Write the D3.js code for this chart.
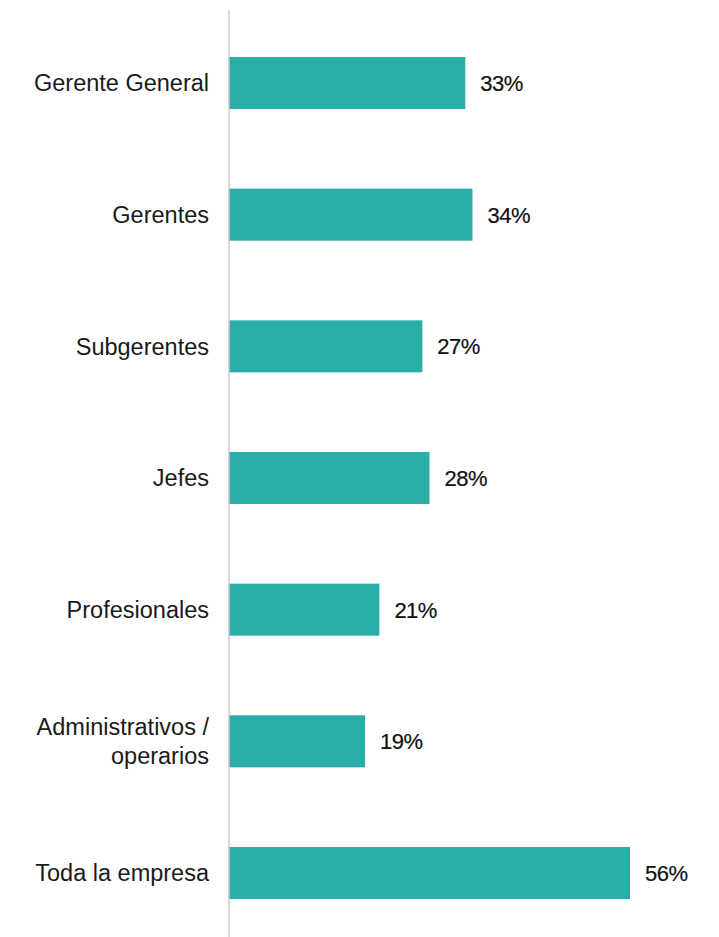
<!DOCTYPE html>
<html>
<head>
<meta charset="utf-8">
<script src="https://cdn.jsdelivr.net/npm/d3@7"></script>
<style>
  html, body { margin: 0; padding: 0; background: #ffffff; }
  svg { display: block; }
</style>
</head>
<body>
<svg id="chart" width="719" height="937"></svg>
<script>
// Share of respondents by role level
const categories = [
  "Gerente General",
  "Gerentes",
  "Subgerentes",
  "Jefes",
  "Profesionales",
  "Administrativos / operarios",
  "Toda la empresa"
];
const values = [33, 34, 27, 28, 21, 19, 56];
// label lines for categories that wrap
const categoryLines = [
  ["Gerente General"],
  ["Gerentes"],
  ["Subgerentes"],
  ["Jefes"],
  ["Profesionales"],
  ["Administrativos /", "operarios"],
  ["Toda la empresa"]
];

const width = 719, height = 937;
const axisX = 229;
const fontFamily = "'Liberation Sans', Arial, sans-serif";

const svg = d3.select("#chart");

const x = d3.scaleLinear().domain([0, 56]).range([axisX, 630]);
const y = d3.scaleBand()
  .domain(categories)
  .range([57, 899])
  .paddingInner(0.605)
  .paddingOuter(0);

const rows = categories.map((c, i) => ({ c, v: values[i], lines: categoryLines[i] }));

// bars
svg.append("g")
  .selectAll("rect")
  .data(rows)
  .join("rect")
  .attr("x", x(0))
  .attr("y", d => y(d.c))
  .attr("width", d => x(d.v) - x(0))
  .attr("height", y.bandwidth())
  .attr("fill", "#28ada9");

// vertical baseline
svg.append("line")
  .attr("x1", axisX).attr("x2", axisX)
  .attr("y1", 10).attr("y2", height)
  .attr("stroke", "#c9c9d1")
  .attr("stroke-width", 1.5);

// category labels
const lineH = 29;
svg.append("g")
  .selectAll("text")
  .data(rows)
  .join("text")
  .attr("text-anchor", "end")
  .attr("font-family", fontFamily)
  .attr("font-size", 23.5)
  .attr("fill", "#1a1a1a")
  .each(function (d) {
    const cy = y(d.c) + y.bandwidth() / 2;
    const n = d.lines.length;
    const first = cy - (n - 1) * lineH / 2;
    d3.select(this).selectAll("tspan")
      .data(d.lines)
      .join("tspan")
      .attr("x", axisX - 20)
      .attr("y", (t, j) => first + j * lineH)
      .attr("dy", "0.36em")
      .text(t => t);
  });

// value labels
svg.append("g")
  .selectAll("text")
  .data(rows)
  .join("text")
  .attr("x", d => x(d.v) + 15)
  .attr("y", d => y(d.c) + y.bandwidth() / 2)
  .attr("dy", "0.36em")
  .attr("font-family", fontFamily)
  .attr("font-size", 22)
  .attr("fill", "#111111")
  .attr("stroke", "#111111")
  .attr("stroke-width", 0.2)
  .attr("letter-spacing", -0.5)
  .text(d => d.v + "%");
</script>
</body>
</html>
